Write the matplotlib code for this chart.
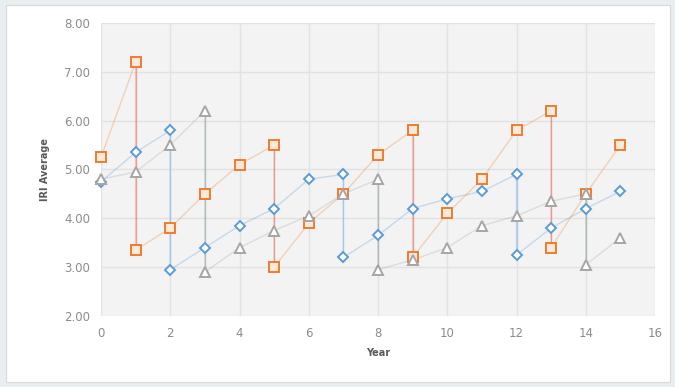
import matplotlib
matplotlib.use("Agg")
import matplotlib.pyplot as plt
from matplotlib.patches import Rectangle

# each series restarts at a lower value: repeated x means a drop at that year
blue_x = [0, 1, 2, 2, 3, 4, 5, 6, 7, 7, 8, 9, 10, 11, 12, 12, 13, 14, 15]
blue_y = [4.75, 5.35, 5.80, 2.95, 3.40, 3.85, 4.20, 4.80, 4.90, 3.20, 3.65, 4.20,
          4.40, 4.55, 4.90, 3.25, 3.80, 4.20, 4.55]

orange_x = [0, 1, 1, 2, 3, 4, 5, 5, 6, 7, 8, 9, 9, 10, 11, 12, 13, 13, 14, 15]
orange_y = [5.25, 7.20, 3.35, 3.80, 4.50, 5.10, 5.50, 3.00, 3.90, 4.50, 5.30, 5.80,
            3.20, 4.10, 4.80, 5.80, 6.20, 3.40, 4.50, 5.50]

gray_x = [0, 1, 2, 3, 3, 4, 5, 6, 7, 8, 8, 9, 10, 11, 12, 13, 14, 14, 15]
gray_y = [4.80, 4.95, 5.50, 6.20, 2.90, 3.40, 3.75, 4.05, 4.50, 4.80, 2.95, 3.15,
          3.40, 3.85, 4.05, 4.35, 4.50, 3.05, 3.60]

series = [
    (blue_x, blue_y, "#5b9bd5", "#9dc3e6", "D", 4.6, "white"),
    (orange_x, orange_y, "#ed7d31", "#e48080", "s", 6.6, "#fde9d9"),
    (gray_x, gray_y, "#a5a5a5", "#9ab0a8", "^", 6.6, "white"),
]

fig = plt.figure(figsize=(6.75, 3.87), dpi=100)
fig.patch.set_facecolor("#e9eef1")
fig.add_artist(Rectangle((6 / 675, 5 / 387), 664 / 675, 377 / 387,
                         transform=fig.transFigure, facecolor="white",
                         edgecolor="#d9d9d9", linewidth=0.8, zorder=0))

ax = fig.add_axes([101 / 675, 1 - 316 / 387, 554 / 675, 293 / 387])
ax.set_facecolor("#f3f3f3")

for xs, ys, col, drop_col, mk, ms, fc in series:
    ax.plot(xs, ys, color=col, alpha=0.3, linewidth=1.0, zorder=2)
    for i in range(1, len(xs)):
        if xs[i] == xs[i - 1]:
            ax.plot([xs[i - 1], xs[i]], [ys[i - 1], ys[i]], color=drop_col,
                    alpha=0.7, linewidth=1.0, zorder=2)
    ax.plot(xs, ys, linestyle="none", marker=mk, markersize=ms, clip_on=False,
            markeredgecolor=col, markerfacecolor=fc, markeredgewidth=1.4, zorder=3)

ax.set_xlim(0, 16)
ax.set_ylim(2, 8)
ax.set_xticks(range(0, 17, 2))
ax.set_yticks(range(2, 9))
ax.set_yticklabels([f"{v:.2f}" for v in range(2, 9)])
ax.grid(True, color="#e2e2e2", linewidth=1.0, zorder=1)
ax.set_axisbelow(True)
for s in ax.spines.values():
    s.set_visible(False)
ax.tick_params(length=0, labelsize=8.5, colors="#8c8c8c", pad=8)
ax.set_xlabel("Year", fontsize=7, fontweight="bold", color="#595959", labelpad=6)
ax.set_ylabel("IRI Average", fontsize=7, fontweight="bold", color="#595959", labelpad=10)

fig.savefig("out.png", dpi=100, facecolor=fig.get_facecolor())
